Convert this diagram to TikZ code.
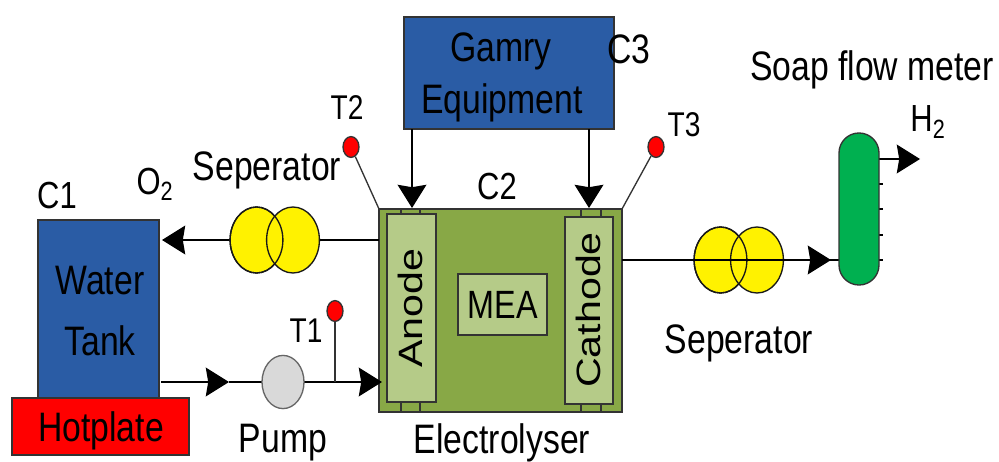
\documentclass[tikz,border=0pt]{standalone}
\usepackage{fontspec}
\setmainfont{Liberation Sans}
\usetikzlibrary{arrows.meta,shapes.geometric}

\definecolor{boxblue}{HTML}{2A5CA5}
\definecolor{cellgreen}{HTML}{88A846}
\definecolor{layergreen}{HTML}{B5CB88}
\definecolor{meterfill}{HTML}{00B050}
\definecolor{pumpgrey}{HTML}{D9D9D9}

\begin{document}
\begin{tikzpicture}[
        x=0.025cm, y=-0.025cm,
        line width=0.95pt,
        lbl/.style={font=\fontsize{24}{24}\selectfont, yscale=1.22, transform shape, inner sep=0pt, align=center},
        small/.style={lbl, font=\fontsize{20}{20}\selectfont},
        tag/.style={lbl, font=\fontsize{22}{22}\selectfont},
        sepa/.style={draw=black!90, fill=yellow, ellipse, minimum width=1.32cm, minimum height=1.65cm, inner sep=0pt},
        probe/.style={draw=black!80, fill=red, ellipse, minimum width=0.4cm, minimum height=0.52cm, inner sep=0pt},
        flow/.style={-{Stealth[length=0.58cm,width=0.72cm,inset=0.06cm]}}
    ]
    \useasboundingbox (0,0) rectangle (999,461);

    \coordinate (TankOut) at (161,382);
    \coordinate (PumpIn) at (229,382);
    \coordinate (CellIn) at (382,382);
    \coordinate (CellOutL) at (379,240);
    \coordinate (TankIn) at (162,240);
    \coordinate (CellOutR) at (622,260);
    \coordinate (MeterIn) at (831,260);
    \coordinate (MeterInEnd) at (839,260);
    \coordinate (MeterOut) at (879,159);
    \coordinate (GasOut) at (920,159);
    \coordinate (AnodeIn) at (412,208);
    \coordinate (CathodeIn) at (589,208);
    \coordinate (GamryA) at (412,129);
    \coordinate (GamryC) at (589,129);
    \coordinate (CellTL) at (379,209);
    \coordinate (CellTR) at (622,209);
    \coordinate (ProbeT) at (335,382);

    \node[fill=boxblue, draw=black!80, minimum width=3.025cm, minimum height=4.45cm, inner sep=0pt] (Tank) at (98.5,309) {};
    \node[fill=red, draw=black!80, minimum width=4.425cm, minimum height=1.425cm, inner sep=0pt] (Plate) at (100.5,426.5) {};
    \node[fill=boxblue, draw=black!80, minimum width=5.25cm, minimum height=2.8cm, inner sep=0pt] (Gamry) at (509,73) {};
    \node[fill=cellgreen, draw=black!80, minimum width=6.075cm, minimum height=5.075cm, inner sep=0pt] (Cell) at (500.5,310.5) {};

    \draw[black!80] (401,209) -- (401,412);
    \draw[black!80] (420,209) -- (420,412);
    \draw[black!80] (581,209) -- (581,412);
    \draw[black!80] (601,209) -- (601,412);

    \node[fill=layergreen, draw=black!80, minimum width=1.225cm, minimum height=4.7cm, inner sep=0pt] (AnodeBox) at (411.5,308) {};
    \node[fill=layergreen, draw=black!80, minimum width=1.2cm, minimum height=4.675cm, inner sep=0pt] (CathodeBox) at (589,310.5) {};
    \node[fill=layergreen, draw=black!80, minimum width=2.225cm, minimum height=1.525cm, inner sep=0pt] (MEABox) at (502.5,304.5) {};

    \draw[flow] (CellOutL) -- (TankIn);
    \node[sepa] (SepA) at (256.5,240) {};
    \node[sepa] (SepB) at (293,240) {};
    \draw[black!90] (SepA.center) ellipse [x radius=26.4, y radius=33];

    \node[sepa] (SepC) at (720.5,260) {};
    \node[sepa] (SepD) at (757,260) {};
    \draw[black!90] (SepC.center) ellipse [x radius=26.4, y radius=33];
    \draw (CellOutR) -- (MeterInEnd);
    \draw[flow] (CellOutR) -- (MeterIn);

    \draw[flow] (TankOut) -- (PumpIn);
    \draw[flow] (PumpIn) -- (CellIn);
    \node[draw=black!60, fill=pumpgrey, ellipse, minimum width=1.05cm, minimum height=1.33cm, inner sep=0pt] (Pump) at (283,382) {};

    \draw[flow] (GamryA) -- (AnodeIn);
    \draw[flow] (GamryC) -- (CathodeIn);

    \node[probe] (T1) at (335,311) {};
    \node[probe] (T2) at (351,147) {};
    \node[probe] (T3) at (656,147) {};
    \draw[black!80] (T1) -- (ProbeT);
    \draw[black!80] (T2) -- (CellTL);
    \draw[black!80] (T3) -- (CellTR);

    \draw (879,184) -- (883,184);
    \draw (879,209) -- (883,209);
    \draw (879,235) -- (883,235);
    \draw (879,260) -- (883,260);
    \draw[flow] (MeterOut) -- (GasOut);
    \node[fill=meterfill, draw=black!80, rounded corners=0.5cm, minimum width=1cm, minimum height=3.8cm, inner sep=0pt] (Meter) at (859,209) {};

    \node[lbl] (LWater) at (100,281) {Water};
    \node[lbl] (LTank) at (100,341) {Tank};
    \node[lbl] (LPlate) at (101,431) {Hotplate};
    \node[lbl] (LGamry) at (501,51) {Gamry};
    \node[lbl] (LEquip) at (502,103) {Equipment};
    \node[tag] (LC1) at (57,196) {C1};
    \node[tag] (LC2) at (497,187) {C2};
    \node[lbl] (LC3) at (629,49) {C3};
    \node[tag] (LO) at (155,184) {O\textsubscript{2}};
    \node[tag] (LH) at (928,122) {H\textsubscript{2}};
    \node[small] (LT1) at (306,331) {T1};
    \node[small] (LT2) at (347,108) {T2};
    \node[small] (LT3) at (684,125) {T3};
    \node[lbl] (LSepA) at (267,170) {Seperator};
    \node[lbl] (LSepB) at (739,343) {Seperator};
    \node[lbl] (LSoap) at (872,70) {Soap flow meter};
    \node[lbl] (LPump) at (283,443) {Pump};
    \node[lbl] (LCell) at (502,443) {Electrolyser};
    \node[lbl, font=\fontsize{23}{23}\selectfont] (LMEA) at (503,305) {MEA};
    \node[lbl, rotate=90] (LAnode) at (410,308) {Anode};
    \node[lbl, rotate=90] (LCathode) at (588,310) {Cathode};
\end{tikzpicture}
\end{document}
